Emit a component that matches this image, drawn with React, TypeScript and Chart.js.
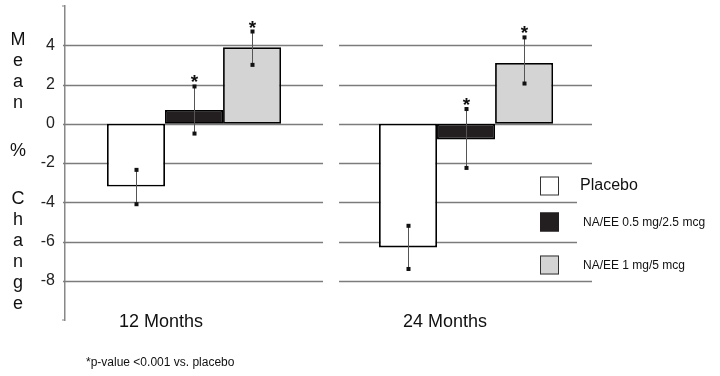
import React, { useEffect, useRef } from "react";
import { Chart, registerables } from "chart.js";

Chart.register(...registerables);

// ---------- data ----------
const categories = ["12 Months", "24 Months"];
const seriesNames = ["Placebo", "NA/EE 0.5 mg/2.5 mcg", "NA/EE 1 mg/5 mcg"];

const placebo = [-3.2, -6.3];
const placeboLow = [-4.1, -7.4];
const placeboHigh = [-2.35, -5.2];
const placeboSig = [false, false];

const na05 = [0.7, -0.8];
const na05Low = [-0.5, -2.25];
const na05High = [1.9, 0.75];
const na05Sig = [true, true];

const na1 = [3.9, 3.1];
const na1Low = [3.0, 2.05];
const na1High = [4.7, 4.4];
const na1Sig = [true, true];

const yTicks = [4, 2, 0, -2, -4, -6, -8];
const yTitle = ["M", "e", "a", "n", "", "%", "", "C", "h", "a", "n", "g", "e"];
const footnote = "*p-value <0.001 vs. placebo";

// ---------- styles ----------
const FONT = "'Liberation Sans', Arial, Helvetica, sans-serif";
const fills = ["#ffffff", "#231f20", "#d4d4d4"];
const labelShift = [-33, -21];

const decor = {
  id: "decor",
  beforeDatasetsDraw(chart: any) {
    const { ctx, chartArea, scales } = chart;
    const y = scales.y;
    const x = scales.x;
    const split = x.getPixelForValue(1.5);
    ctx.save();
    ctx.strokeStyle = "#7c7c7c";
    ctx.lineWidth = 1.3;
    for (const t of yTicks) {
      const py = Math.round(y.getPixelForValue(t)) + 0.5;
      ctx.beginPath();
      ctx.moveTo(chartArea.left - 2, py);
      ctx.lineTo(split - 7, py);
      ctx.moveTo(split + 9, py);
      ctx.lineTo(chartArea.right, py);
      ctx.stroke();
    }
    // axis end caps
    ctx.strokeStyle = "#888";
    ctx.lineWidth = 1.2;
    ctx.beginPath();
    ctx.moveTo(chartArea.left - 3, chartArea.top);
    ctx.lineTo(chartArea.left, chartArea.top);
    ctx.moveTo(chartArea.left - 3, chartArea.bottom);
    ctx.lineTo(chartArea.left, chartArea.bottom);
    ctx.stroke();
    ctx.restore();
  },
  afterDatasetsDraw(chart: any) {
    const { ctx, chartArea, scales } = chart;
    const y = scales.y;
    const x = scales.x;
    ctx.save();
    // error bars + asterisks
    chart.data.datasets.forEach((ds: any, di: number) => {
      const meta = chart.getDatasetMeta(di);
      meta.data.forEach((el: any, i: number) => {
        const px = Math.round(el.x) + 0.5;
        const yl = y.getPixelForValue(ds.errLow[i]);
        const yh = y.getPixelForValue(ds.errHigh[i]);
        ctx.strokeStyle = "#555";
        ctx.lineWidth = 1;
        ctx.beginPath();
        ctx.moveTo(px, yl);
        ctx.lineTo(px, yh);
        ctx.stroke();
        ctx.fillStyle = "#111";
        ctx.fillRect(px - 2, yl - 2, 4, 4);
        ctx.fillRect(px - 2, yh - 2, 4, 4);
        if (ds.sig[i]) {
          ctx.font = `bold 19px ${FONT}`;
          ctx.textAlign = "center";
          ctx.textBaseline = "alphabetic";
          ctx.fillStyle = "#111";
          ctx.fillText("*", px, Math.min(yl, yh) + 2);
        }
      });
    });

    // legend
    const lx = chartArea.right - 52;
    ctx.fillStyle = "#fff";
    ctx.fillRect(chartArea.right - 15, chartArea.top + 162, 150, 108);
    const rows = [chartArea.top + 180, chartArea.top + 216, chartArea.top + 259];
    seriesNames.forEach((name, i) => {
      const cy = rows[i];
      ctx.fillStyle = fills[i];
      ctx.fillRect(lx, cy - 9.5, 19, 19);
      ctx.strokeStyle = i === 1 ? "#231f20" : "#333";
      ctx.lineWidth = 1;
      ctx.strokeRect(lx + 0.5, cy - 9, 18, 18);
      ctx.fillStyle = "#111";
      ctx.textAlign = "left";
      ctx.textBaseline = "middle";
      if (i === 0) {
        ctx.font = `16px ${FONT}`;
        ctx.fillText(name, chartArea.right - 12, cy);
      } else {
        ctx.font = `12px ${FONT}`;
        ctx.fillText(name, chartArea.right - 9, cy + 1);
      }
    });

    // y title (stacked letters)
    ctx.font = `18px ${FONT}`;
    ctx.fillStyle = "#111";
    ctx.textAlign = "center";
    ctx.textBaseline = "middle";
    let ty = chartArea.top + 34;
    yTitle.forEach((ch) => {
      if (ch === "") {
        ty += 27;
        return;
      }
      ctx.fillText(ch, 18, ty);
      ty += 21;
    });

    // category labels
    ctx.font = `18px ${FONT}`;
    categories.forEach((c, i) => {
      ctx.fillText(c, x.getPixelForValue(i + 1) + labelShift[i], chartArea.bottom + 2);
    });

    // footnote
    ctx.font = `12px ${FONT}`;
    ctx.textAlign = "left";
    ctx.fillText(footnote, 86, 363);
    ctx.restore();
  },
};

export default function App() {
  const ref = useRef<HTMLCanvasElement | null>(null);
  useEffect(() => {
    if (!ref.current) return;
    const mk = (vals: number[]) => vals.map((v, i) => ({ x: i + 1, y: v }));
    const chart = new Chart(ref.current, {
      type: "bar",
      data: {
        datasets: [
          { label: seriesNames[0], data: mk(placebo), backgroundColor: fills[0], errLow: placeboLow, errHigh: placeboHigh, sig: placeboSig } as any,
          { label: seriesNames[1], data: mk(na05), backgroundColor: fills[1], errLow: na05Low, errHigh: na05High, sig: na05Sig } as any,
          { label: seriesNames[2], data: mk(na1), backgroundColor: fills[2], errLow: na1Low, errHigh: na1High, sig: na1Sig } as any,
        ],
      },
      options: {
        responsive: false,
        animation: false,
        devicePixelRatio: 1,
        layout: { padding: { top: 6, right: 128, left: 0, bottom: 56 } },
        datasets: {
          bar: {
            categoryPercentage: 0.64,
            barPercentage: 1,
            borderColor: "#000",
            borderWidth: 1.8,
            borderSkipped: false,
          } as any,
        },
        plugins: {
          legend: { display: false },
          tooltip: { enabled: false },
          title: { display: false },
        },
        scales: {
          x: {
            type: "linear",
            display: false,
            offset: false,
            min: 0.5257,
            max: 2.463,
            afterBuildTicks: (s: any) => {
              s.ticks = categories.map((_, i) => ({ value: i + 1 }));
            },
          },
          y: {
            type: "linear",
            min: -10,
            max: 6,
            afterBuildTicks: (s: any) => {
              s.ticks = yTicks.map((v) => ({ value: v }));
            },
            afterFit: (s: any) => {
              s.width = 65;
              s.paddingTop = 0;
              s.paddingBottom = 0;
            },
            grid: { display: false, drawTicks: false },
            border: { display: true, color: "#888", width: 1.5 },
            ticks: {
              padding: 10,
              color: "#222",
              font: { family: FONT, size: 16 },
              callback: (v: any) => String(v),
            },
          },
        },
      },
      plugins: [decor],
    });
    return () => chart.destroy();
  }, []);
  return (
    <div style={{ position: "absolute", left: 0, top: 0, width: 720, height: 376, background: "#fff" }}>
      <canvas ref={ref} width={720} height={376} style={{ display: "block" }} />
    </div>
  );
}
